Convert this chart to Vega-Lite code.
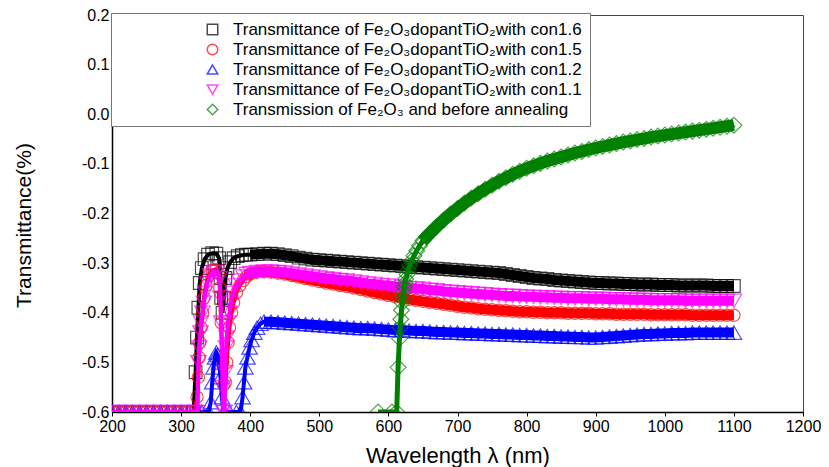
{
"$schema":"https://vega.github.io/schema/vega-lite/v6.json",
"width":691,"height":397,"autosize":"none",
"padding":{"left":112,"top":15,"right":26,"bottom":55},
"background":"white",
"config":{"view":{"stroke":"#444","strokeWidth":1},"font":"Liberation Sans"},
"data":{"values":[
{"s":"a","x":200,"y":-0.6},{"s":"a","x":210,"y":-0.6},{"s":"a","x":220,"y":-0.6},{"s":"a","x":230,"y":-0.6},{"s":"a","x":240,"y":-0.6},{"s":"a","x":250,"y":-0.6},{"s":"a","x":260,"y":-0.6},{"s":"a","x":270,"y":-0.6},{"s":"a","x":280,"y":-0.6},{"s":"a","x":290,"y":-0.6},{"s":"a","x":300,"y":-0.6},{"s":"a","x":310,"y":-0.6},{"s":"a","x":318,"y":-0.6},{"s":"a","x":321,"y":-0.52},{"s":"a","x":323,"y":-0.45},{"s":"a","x":325,"y":-0.39},{"s":"a","x":327,"y":-0.34},{"s":"a","x":330,"y":-0.31},{"s":"a","x":334,"y":-0.292},{"s":"a","x":339,"y":-0.283},{"s":"a","x":345,"y":-0.28},{"s":"a","x":351,"y":-0.281},{"s":"a","x":355,"y":-0.29},{"s":"a","x":357,"y":-0.33},{"s":"a","x":358,"y":-0.37},{"s":"a","x":360,"y":-0.4},{"s":"a","x":362,"y":-0.37},{"s":"a","x":364,"y":-0.33},{"s":"a","x":367,"y":-0.31},{"s":"a","x":371,"y":-0.298},{"s":"a","x":376,"y":-0.29},{"s":"a","x":382,"y":-0.286},{"s":"a","x":388,"y":-0.284},{"s":"a","x":394,"y":-0.283},{"s":"a","x":400,"y":-0.283},{"s":"a","x":410,"y":-0.282},{"s":"a","x":420,"y":-0.281},{"s":"a","x":430,"y":-0.281},{"s":"a","x":440,"y":-0.282},{"s":"a","x":450,"y":-0.284},{"s":"a","x":460,"y":-0.286},{"s":"a","x":470,"y":-0.289},{"s":"a","x":480,"y":-0.291},{"s":"a","x":490,"y":-0.293},{"s":"a","x":500,"y":-0.294},{"s":"a","x":510,"y":-0.295},{"s":"a","x":520,"y":-0.296},{"s":"a","x":530,"y":-0.297},{"s":"a","x":540,"y":-0.298},{"s":"a","x":550,"y":-0.299},{"s":"a","x":560,"y":-0.3},{"s":"a","x":570,"y":-0.301},{"s":"a","x":580,"y":-0.302},{"s":"a","x":590,"y":-0.303},{"s":"a","x":600,"y":-0.304},{"s":"a","x":610,"y":-0.305},{"s":"a","x":620,"y":-0.306},{"s":"a","x":630,"y":-0.307},{"s":"a","x":640,"y":-0.308},{"s":"a","x":650,"y":-0.309},{"s":"a","x":660,"y":-0.31},{"s":"a","x":670,"y":-0.311},{"s":"a","x":680,"y":-0.312},{"s":"a","x":690,"y":-0.313},{"s":"a","x":700,"y":-0.314},{"s":"a","x":710,"y":-0.315},{"s":"a","x":720,"y":-0.316},{"s":"a","x":730,"y":-0.317},{"s":"a","x":740,"y":-0.318},{"s":"a","x":750,"y":-0.319},{"s":"a","x":760,"y":-0.32},{"s":"a","x":770,"y":-0.322},{"s":"a","x":780,"y":-0.324},{"s":"a","x":790,"y":-0.326},{"s":"a","x":800,"y":-0.328},{"s":"a","x":810,"y":-0.33},{"s":"a","x":820,"y":-0.331},{"s":"a","x":830,"y":-0.332},{"s":"a","x":840,"y":-0.334},{"s":"a","x":850,"y":-0.335},{"s":"a","x":860,"y":-0.336},{"s":"a","x":870,"y":-0.337},{"s":"a","x":880,"y":-0.338},{"s":"a","x":890,"y":-0.339},{"s":"a","x":900,"y":-0.34},{"s":"a","x":910,"y":-0.34},{"s":"a","x":920,"y":-0.341},{"s":"a","x":930,"y":-0.341},{"s":"a","x":940,"y":-0.342},{"s":"a","x":950,"y":-0.342},{"s":"a","x":960,"y":-0.343},{"s":"a","x":970,"y":-0.343},{"s":"a","x":980,"y":-0.343},{"s":"a","x":990,"y":-0.344},{"s":"a","x":1000,"y":-0.344},{"s":"a","x":1010,"y":-0.344},{"s":"a","x":1020,"y":-0.345},{"s":"a","x":1030,"y":-0.345},{"s":"a","x":1040,"y":-0.345},{"s":"a","x":1050,"y":-0.345},{"s":"a","x":1060,"y":-0.345},{"s":"a","x":1070,"y":-0.346},{"s":"a","x":1080,"y":-0.346},{"s":"a","x":1090,"y":-0.346},{"s":"a","x":1100,"y":-0.346},
{"s":"b","x":200,"y":-0.6},{"s":"b","x":210,"y":-0.6},{"s":"b","x":220,"y":-0.6},{"s":"b","x":230,"y":-0.6},{"s":"b","x":240,"y":-0.6},{"s":"b","x":250,"y":-0.6},{"s":"b","x":260,"y":-0.6},{"s":"b","x":270,"y":-0.6},{"s":"b","x":280,"y":-0.6},{"s":"b","x":290,"y":-0.6},{"s":"b","x":300,"y":-0.6},{"s":"b","x":310,"y":-0.6},{"s":"b","x":320,"y":-0.6},{"s":"b","x":323,"y":-0.57},{"s":"b","x":325,"y":-0.53},{"s":"b","x":326,"y":-0.49},{"s":"b","x":327,"y":-0.46},{"s":"b","x":329,"y":-0.43},{"s":"b","x":331,"y":-0.4},{"s":"b","x":333,"y":-0.37},{"s":"b","x":336,"y":-0.345},{"s":"b","x":340,"y":-0.325},{"s":"b","x":345,"y":-0.315},{"s":"b","x":350,"y":-0.313},{"s":"b","x":354,"y":-0.32},{"s":"b","x":356,"y":-0.35},{"s":"b","x":358,"y":-0.42},{"s":"b","x":360,"y":-0.5},{"s":"b","x":362,"y":-0.545},{"s":"b","x":364,"y":-0.54},{"s":"b","x":366,"y":-0.5},{"s":"b","x":368,"y":-0.46},{"s":"b","x":370,"y":-0.43},{"s":"b","x":373,"y":-0.4},{"s":"b","x":376,"y":-0.38},{"s":"b","x":380,"y":-0.36},{"s":"b","x":385,"y":-0.345},{"s":"b","x":390,"y":-0.335},{"s":"b","x":395,"y":-0.327},{"s":"b","x":400,"y":-0.322},{"s":"b","x":410,"y":-0.318},{"s":"b","x":420,"y":-0.317},{"s":"b","x":430,"y":-0.318},{"s":"b","x":440,"y":-0.32},{"s":"b","x":450,"y":-0.322},{"s":"b","x":460,"y":-0.325},{"s":"b","x":470,"y":-0.328},{"s":"b","x":480,"y":-0.331},{"s":"b","x":490,"y":-0.334},{"s":"b","x":500,"y":-0.337},{"s":"b","x":510,"y":-0.34},{"s":"b","x":520,"y":-0.342},{"s":"b","x":530,"y":-0.345},{"s":"b","x":540,"y":-0.347},{"s":"b","x":550,"y":-0.35},{"s":"b","x":560,"y":-0.353},{"s":"b","x":570,"y":-0.356},{"s":"b","x":580,"y":-0.359},{"s":"b","x":590,"y":-0.362},{"s":"b","x":600,"y":-0.365},{"s":"b","x":610,"y":-0.368},{"s":"b","x":620,"y":-0.37},{"s":"b","x":630,"y":-0.373},{"s":"b","x":640,"y":-0.375},{"s":"b","x":650,"y":-0.377},{"s":"b","x":660,"y":-0.379},{"s":"b","x":670,"y":-0.381},{"s":"b","x":680,"y":-0.383},{"s":"b","x":690,"y":-0.385},{"s":"b","x":700,"y":-0.387},{"s":"b","x":710,"y":-0.389},{"s":"b","x":720,"y":-0.39},{"s":"b","x":730,"y":-0.392},{"s":"b","x":740,"y":-0.393},{"s":"b","x":750,"y":-0.394},{"s":"b","x":760,"y":-0.395},{"s":"b","x":770,"y":-0.396},{"s":"b","x":780,"y":-0.397},{"s":"b","x":790,"y":-0.398},{"s":"b","x":800,"y":-0.398},{"s":"b","x":810,"y":-0.399},{"s":"b","x":820,"y":-0.399},{"s":"b","x":830,"y":-0.4},{"s":"b","x":840,"y":-0.4},{"s":"b","x":850,"y":-0.4},{"s":"b","x":860,"y":-0.401},{"s":"b","x":870,"y":-0.401},{"s":"b","x":880,"y":-0.401},{"s":"b","x":890,"y":-0.401},{"s":"b","x":900,"y":-0.402},{"s":"b","x":910,"y":-0.402},{"s":"b","x":920,"y":-0.402},{"s":"b","x":930,"y":-0.403},{"s":"b","x":940,"y":-0.403},{"s":"b","x":950,"y":-0.403},{"s":"b","x":960,"y":-0.403},{"s":"b","x":970,"y":-0.403},{"s":"b","x":980,"y":-0.404},{"s":"b","x":990,"y":-0.404},{"s":"b","x":1000,"y":-0.404},{"s":"b","x":1010,"y":-0.404},{"s":"b","x":1020,"y":-0.404},{"s":"b","x":1030,"y":-0.404},{"s":"b","x":1040,"y":-0.405},{"s":"b","x":1050,"y":-0.405},{"s":"b","x":1060,"y":-0.405},{"s":"b","x":1070,"y":-0.405},{"s":"b","x":1080,"y":-0.405},{"s":"b","x":1090,"y":-0.405},{"s":"b","x":1100,"y":-0.405},
{"s":"c","x":200,"y":-0.6},{"s":"c","x":210,"y":-0.6},{"s":"c","x":220,"y":-0.6},{"s":"c","x":230,"y":-0.6},{"s":"c","x":240,"y":-0.6},{"s":"c","x":250,"y":-0.6},{"s":"c","x":260,"y":-0.6},{"s":"c","x":270,"y":-0.6},{"s":"c","x":280,"y":-0.6},{"s":"c","x":290,"y":-0.6},{"s":"c","x":300,"y":-0.6},{"s":"c","x":310,"y":-0.6},{"s":"c","x":320,"y":-0.6},{"s":"c","x":330,"y":-0.6},{"s":"c","x":340,"y":-0.6},{"s":"c","x":343,"y":-0.58},{"s":"c","x":345,"y":-0.54},{"s":"c","x":347,"y":-0.51},{"s":"c","x":349,"y":-0.49},{"s":"c","x":351,"y":-0.48},{"s":"c","x":353,"y":-0.485},{"s":"c","x":355,"y":-0.5},{"s":"c","x":357,"y":-0.53},{"s":"c","x":359,"y":-0.57},{"s":"c","x":361,"y":-0.6},{"s":"c","x":370,"y":-0.6},{"s":"c","x":380,"y":-0.6},{"s":"c","x":386,"y":-0.6},{"s":"c","x":389,"y":-0.57},{"s":"c","x":391,"y":-0.54},{"s":"c","x":393,"y":-0.51},{"s":"c","x":396,"y":-0.49},{"s":"c","x":399,"y":-0.47},{"s":"c","x":402,"y":-0.455},{"s":"c","x":406,"y":-0.44},{"s":"c","x":410,"y":-0.43},{"s":"c","x":415,"y":-0.422},{"s":"c","x":420,"y":-0.418},{"s":"c","x":430,"y":-0.418},{"s":"c","x":440,"y":-0.419},{"s":"c","x":450,"y":-0.42},{"s":"c","x":460,"y":-0.421},{"s":"c","x":470,"y":-0.422},{"s":"c","x":480,"y":-0.423},{"s":"c","x":490,"y":-0.424},{"s":"c","x":500,"y":-0.425},{"s":"c","x":510,"y":-0.426},{"s":"c","x":520,"y":-0.427},{"s":"c","x":530,"y":-0.428},{"s":"c","x":540,"y":-0.429},{"s":"c","x":550,"y":-0.43},{"s":"c","x":560,"y":-0.431},{"s":"c","x":570,"y":-0.431},{"s":"c","x":580,"y":-0.432},{"s":"c","x":590,"y":-0.433},{"s":"c","x":600,"y":-0.434},{"s":"c","x":610,"y":-0.435},{"s":"c","x":620,"y":-0.435},{"s":"c","x":630,"y":-0.436},{"s":"c","x":640,"y":-0.437},{"s":"c","x":650,"y":-0.437},{"s":"c","x":660,"y":-0.438},{"s":"c","x":670,"y":-0.439},{"s":"c","x":680,"y":-0.439},{"s":"c","x":690,"y":-0.44},{"s":"c","x":700,"y":-0.44},{"s":"c","x":710,"y":-0.441},{"s":"c","x":720,"y":-0.441},{"s":"c","x":730,"y":-0.442},{"s":"c","x":740,"y":-0.442},{"s":"c","x":750,"y":-0.443},{"s":"c","x":760,"y":-0.443},{"s":"c","x":770,"y":-0.444},{"s":"c","x":780,"y":-0.444},{"s":"c","x":790,"y":-0.445},{"s":"c","x":800,"y":-0.445},{"s":"c","x":810,"y":-0.446},{"s":"c","x":820,"y":-0.446},{"s":"c","x":830,"y":-0.447},{"s":"c","x":840,"y":-0.447},{"s":"c","x":850,"y":-0.448},{"s":"c","x":860,"y":-0.448},{"s":"c","x":870,"y":-0.449},{"s":"c","x":880,"y":-0.449},{"s":"c","x":890,"y":-0.45},{"s":"c","x":900,"y":-0.45},{"s":"c","x":910,"y":-0.449},{"s":"c","x":920,"y":-0.448},{"s":"c","x":930,"y":-0.447},{"s":"c","x":940,"y":-0.446},{"s":"c","x":950,"y":-0.445},{"s":"c","x":960,"y":-0.444},{"s":"c","x":970,"y":-0.443},{"s":"c","x":980,"y":-0.443},{"s":"c","x":990,"y":-0.442},{"s":"c","x":1000,"y":-0.442},{"s":"c","x":1010,"y":-0.441},{"s":"c","x":1020,"y":-0.441},{"s":"c","x":1030,"y":-0.441},{"s":"c","x":1040,"y":-0.44},{"s":"c","x":1050,"y":-0.44},{"s":"c","x":1060,"y":-0.44},{"s":"c","x":1070,"y":-0.44},{"s":"c","x":1080,"y":-0.44},{"s":"c","x":1090,"y":-0.44},{"s":"c","x":1100,"y":-0.44},
{"s":"d","x":200,"y":-0.6},{"s":"d","x":210,"y":-0.6},{"s":"d","x":220,"y":-0.6},{"s":"d","x":230,"y":-0.6},{"s":"d","x":240,"y":-0.6},{"s":"d","x":250,"y":-0.6},{"s":"d","x":260,"y":-0.6},{"s":"d","x":270,"y":-0.6},{"s":"d","x":280,"y":-0.6},{"s":"d","x":290,"y":-0.6},{"s":"d","x":300,"y":-0.6},{"s":"d","x":310,"y":-0.6},{"s":"d","x":320,"y":-0.6},{"s":"d","x":324,"y":-0.6},{"s":"d","x":325,"y":-0.5},{"s":"d","x":326,"y":-0.47},{"s":"d","x":328,"y":-0.44},{"s":"d","x":329,"y":-0.42},{"s":"d","x":331,"y":-0.4},{"s":"d","x":333,"y":-0.38},{"s":"d","x":335,"y":-0.36},{"s":"d","x":338,"y":-0.34},{"s":"d","x":342,"y":-0.325},{"s":"d","x":347,"y":-0.318},{"s":"d","x":352,"y":-0.318},{"s":"d","x":356,"y":-0.33},{"s":"d","x":357,"y":-0.37},{"s":"d","x":358,"y":-0.42},{"s":"d","x":360,"y":-0.55},{"s":"d","x":361,"y":-0.6},{"s":"d","x":363,"y":-0.6},{"s":"d","x":364,"y":-0.52},{"s":"d","x":365,"y":-0.47},{"s":"d","x":366,"y":-0.45},{"s":"d","x":368,"y":-0.42},{"s":"d","x":370,"y":-0.4},{"s":"d","x":372,"y":-0.38},{"s":"d","x":375,"y":-0.36},{"s":"d","x":379,"y":-0.345},{"s":"d","x":384,"y":-0.335},{"s":"d","x":390,"y":-0.327},{"s":"d","x":395,"y":-0.322},{"s":"d","x":400,"y":-0.32},{"s":"d","x":410,"y":-0.318},{"s":"d","x":420,"y":-0.317},{"s":"d","x":430,"y":-0.317},{"s":"d","x":440,"y":-0.318},{"s":"d","x":450,"y":-0.319},{"s":"d","x":460,"y":-0.321},{"s":"d","x":470,"y":-0.323},{"s":"d","x":480,"y":-0.325},{"s":"d","x":490,"y":-0.327},{"s":"d","x":500,"y":-0.329},{"s":"d","x":510,"y":-0.331},{"s":"d","x":520,"y":-0.332},{"s":"d","x":530,"y":-0.334},{"s":"d","x":540,"y":-0.335},{"s":"d","x":550,"y":-0.337},{"s":"d","x":560,"y":-0.339},{"s":"d","x":570,"y":-0.341},{"s":"d","x":580,"y":-0.342},{"s":"d","x":590,"y":-0.344},{"s":"d","x":600,"y":-0.345},{"s":"d","x":610,"y":-0.347},{"s":"d","x":620,"y":-0.348},{"s":"d","x":630,"y":-0.35},{"s":"d","x":640,"y":-0.351},{"s":"d","x":650,"y":-0.352},{"s":"d","x":660,"y":-0.354},{"s":"d","x":670,"y":-0.355},{"s":"d","x":680,"y":-0.357},{"s":"d","x":690,"y":-0.358},{"s":"d","x":700,"y":-0.359},{"s":"d","x":710,"y":-0.36},{"s":"d","x":720,"y":-0.361},{"s":"d","x":730,"y":-0.362},{"s":"d","x":740,"y":-0.363},{"s":"d","x":750,"y":-0.364},{"s":"d","x":760,"y":-0.365},{"s":"d","x":770,"y":-0.366},{"s":"d","x":780,"y":-0.366},{"s":"d","x":790,"y":-0.367},{"s":"d","x":800,"y":-0.368},{"s":"d","x":810,"y":-0.368},{"s":"d","x":820,"y":-0.369},{"s":"d","x":830,"y":-0.369},{"s":"d","x":840,"y":-0.37},{"s":"d","x":850,"y":-0.37},{"s":"d","x":860,"y":-0.371},{"s":"d","x":870,"y":-0.371},{"s":"d","x":880,"y":-0.371},{"s":"d","x":890,"y":-0.372},{"s":"d","x":900,"y":-0.372},{"s":"d","x":910,"y":-0.372},{"s":"d","x":920,"y":-0.373},{"s":"d","x":930,"y":-0.373},{"s":"d","x":940,"y":-0.373},{"s":"d","x":950,"y":-0.374},{"s":"d","x":960,"y":-0.374},{"s":"d","x":970,"y":-0.374},{"s":"d","x":980,"y":-0.375},{"s":"d","x":990,"y":-0.375},{"s":"d","x":1000,"y":-0.375},{"s":"d","x":1010,"y":-0.375},{"s":"d","x":1020,"y":-0.375},{"s":"d","x":1030,"y":-0.376},{"s":"d","x":1040,"y":-0.376},{"s":"d","x":1050,"y":-0.376},{"s":"d","x":1060,"y":-0.376},{"s":"d","x":1070,"y":-0.376},{"s":"d","x":1080,"y":-0.376},{"s":"d","x":1090,"y":-0.376},{"s":"d","x":1100,"y":-0.376},
{"s":"e","x":585,"y":-0.6},{"s":"e","x":605,"y":-0.6},{"s":"e","x":612,"y":-0.6},{"s":"e","x":614,"y":-0.51},{"s":"e","x":616,"y":-0.452},{"s":"e","x":617,"y":-0.43},{"s":"e","x":618,"y":-0.413},{"s":"e","x":619,"y":-0.395},{"s":"e","x":620,"y":-0.38},{"s":"e","x":621,"y":-0.37},{"s":"e","x":622,"y":-0.358},{"s":"e","x":623,"y":-0.348},{"s":"e","x":624,"y":-0.34},{"s":"e","x":625,"y":-0.332},{"s":"e","x":627,"y":-0.323},{"s":"e","x":629,"y":-0.314},{"s":"e","x":631,"y":-0.305},{"s":"e","x":634,"y":-0.295},{"s":"e","x":637,"y":-0.285},{"s":"e","x":641,"y":-0.275},{"s":"e","x":645,"y":-0.265},{"s":"e","x":650,"y":-0.255},{"s":"e","x":655,"y":-0.247},{"s":"e","x":660,"y":-0.24},{"s":"e","x":670,"y":-0.226},{"s":"e","x":680,"y":-0.213},{"s":"e","x":690,"y":-0.201},{"s":"e","x":700,"y":-0.19},{"s":"e","x":710,"y":-0.179},{"s":"e","x":720,"y":-0.169},{"s":"e","x":730,"y":-0.16},{"s":"e","x":740,"y":-0.151},{"s":"e","x":750,"y":-0.143},{"s":"e","x":760,"y":-0.135},{"s":"e","x":770,"y":-0.128},{"s":"e","x":780,"y":-0.121},{"s":"e","x":790,"y":-0.115},{"s":"e","x":800,"y":-0.109},{"s":"e","x":810,"y":-0.104},{"s":"e","x":820,"y":-0.099},{"s":"e","x":830,"y":-0.094},{"s":"e","x":840,"y":-0.09},{"s":"e","x":850,"y":-0.086},{"s":"e","x":860,"y":-0.082},{"s":"e","x":870,"y":-0.078},{"s":"e","x":880,"y":-0.075},{"s":"e","x":890,"y":-0.071},{"s":"e","x":900,"y":-0.068},{"s":"e","x":910,"y":-0.065},{"s":"e","x":920,"y":-0.062},{"s":"e","x":930,"y":-0.059},{"s":"e","x":940,"y":-0.056},{"s":"e","x":950,"y":-0.054},{"s":"e","x":960,"y":-0.051},{"s":"e","x":970,"y":-0.049},{"s":"e","x":980,"y":-0.046},{"s":"e","x":990,"y":-0.044},{"s":"e","x":1000,"y":-0.042},{"s":"e","x":1010,"y":-0.04},{"s":"e","x":1020,"y":-0.038},{"s":"e","x":1030,"y":-0.036},{"s":"e","x":1040,"y":-0.034},{"s":"e","x":1050,"y":-0.032},{"s":"e","x":1060,"y":-0.03},{"s":"e","x":1070,"y":-0.028},{"s":"e","x":1080,"y":-0.026},{"s":"e","x":1090,"y":-0.024},{"s":"e","x":1100,"y":-0.022}
]},
"encoding":{
"x":{"field":"x","type":"quantitative","scale":{"domain":[200,1200],"nice":false,"zero":false},
 "axis":{"values":[200,300,400,500,600,700,800,900,1000,1100,1200],"format":"d","title":"Wavelength λ (nm)","grid":false,"labelFlush":false,"labelOverlap":false,"labelFontSize":16,"labelColor":"black","labelPadding":2,"tickSize":4,"tickColor":"black","domainColor":"black","domainWidth":1.5,"titleFontSize":22,"titleFontWeight":"normal","titleColor":"black","titleBaseline":"alphabetic","titleY":50}},
"y":{"field":"y","type":"quantitative","scale":{"domain":[-0.6,0.2],"nice":false,"zero":false},
 "axis":{"values":[-0.6,-0.5,-0.4,-0.3,-0.2,-0.1,0,0.1,0.2],"labelExpr":"replace(format(datum.value,'.1f'),'−','-')","title":"Transmittance(%)","grid":false,"labelOverlap":false,"labelFlush":false,"labelFontSize":16,"labelColor":"black","labelPadding":3,"ticks":false,"domainColor":"black","domainWidth":1.5,"titleFontSize":21,"titleFontWeight":"normal","titleColor":"black","titleX":-78,"titleY":210,"titleBaseline":"bottom"}}
},
"layer":[
{"transform":[{"filter":"datum.s==='a'"}],"layer":[
 {"mark":{"type":"line","strokeWidth":4,"clip":true,"color":"#000000"},"encoding":{}},
 {"transform":[{"filter":"datum.x>=395"}],"mark":{"type":"line","strokeWidth":10,"clip":true,"color":"#000000"},"encoding":{}},
 {"mark":{"type":"point","filled":false,"size":160,"strokeWidth":1.2,"clip":true},"encoding":{
  "color":{"field":"s","type":"nominal","scale":{"domain":["a","b","c","d","e"],"range":["#000000","#ff0000","#0000ff","#ff00ff","#008000"]},
   "legend":{"title":null,"orient":"none","legendX":-1,"legendY":-2,"fillColor":"white","strokeColor":"#777","padding":8,"symbolOffset":85,"labelOffset":12,"labelFontSize":17,"labelColor":"black","labelLimit":0,"symbolSize":110,"symbolStrokeWidth":1.5,"rowPadding":2,
   "labelExpr":"datum.label=='a'?'Transmittance of Fe₂O₃dopantTiO₂with con1.6':datum.label=='b'?'Transmittance of Fe₂O₃dopantTiO₂with con1.5':datum.label=='c'?'Transmittance of Fe₂O₃dopantTiO₂with con1.2':datum.label=='d'?'Transmittance of Fe₂O₃dopantTiO₂with con1.1':'Transmission of Fe₂O₃ and before annealing'"}},
  "shape":{"field":"s","type":"nominal","scale":{"domain":["a","b","c","d","e"],"range":["square","circle","triangle-up","triangle-down","diamond"]}}}}]},
{"transform":[{"filter":"datum.s==='b'"}],"layer":[
 {"mark":{"type":"line","strokeWidth":4,"clip":true,"color":"#ff0000"},"encoding":{}},
 {"transform":[{"filter":"datum.x>=395"}],"mark":{"type":"line","strokeWidth":10,"clip":true,"color":"#ff0000"},"encoding":{}},
 {"mark":{"type":"point","filled":false,"size":150,"strokeWidth":1.2,"clip":true},"encoding":{"color":{"field":"s","type":"nominal"},"shape":{"field":"s","type":"nominal"}}}]},
{"transform":[{"filter":"datum.s==='c'"}],"layer":[
 {"mark":{"type":"line","strokeWidth":4,"clip":true,"color":"#0000ff"},"encoding":{}},
 {"transform":[{"filter":"datum.x>=420"}],"mark":{"type":"line","strokeWidth":10,"clip":true,"color":"#0000ff"},"encoding":{}},
 {"mark":{"type":"point","filled":false,"size":240,"strokeWidth":1.2,"clip":true},"encoding":{"color":{"field":"s","type":"nominal"},"shape":{"field":"s","type":"nominal"}}}]},
{"transform":[{"filter":"datum.s==='d'"}],"layer":[
 {"mark":{"type":"line","strokeWidth":4,"clip":true,"color":"#ff00ff"},"encoding":{}},
 {"transform":[{"filter":"datum.x>=395"}],"mark":{"type":"line","strokeWidth":10,"clip":true,"color":"#ff00ff"},"encoding":{}},
 {"mark":{"type":"point","filled":false,"size":240,"strokeWidth":1.2,"clip":true},"encoding":{"color":{"field":"s","type":"nominal"},"shape":{"field":"s","type":"nominal"}}}]},
{"transform":[{"filter":"datum.s==='e'"}],"layer":[
 {"mark":{"type":"line","strokeWidth":5,"clip":true,"color":"#008000"},"encoding":{}},
 {"transform":[{"filter":"datum.x>=650"}],"mark":{"type":"line","strokeWidth":12,"clip":true,"color":"#008000"},"encoding":{}},
 {"mark":{"type":"point","filled":false,"size":250,"strokeWidth":1.2,"clip":true},"encoding":{"color":{"field":"s","type":"nominal"},"shape":{"field":"s","type":"nominal"}}}]}
]
}
